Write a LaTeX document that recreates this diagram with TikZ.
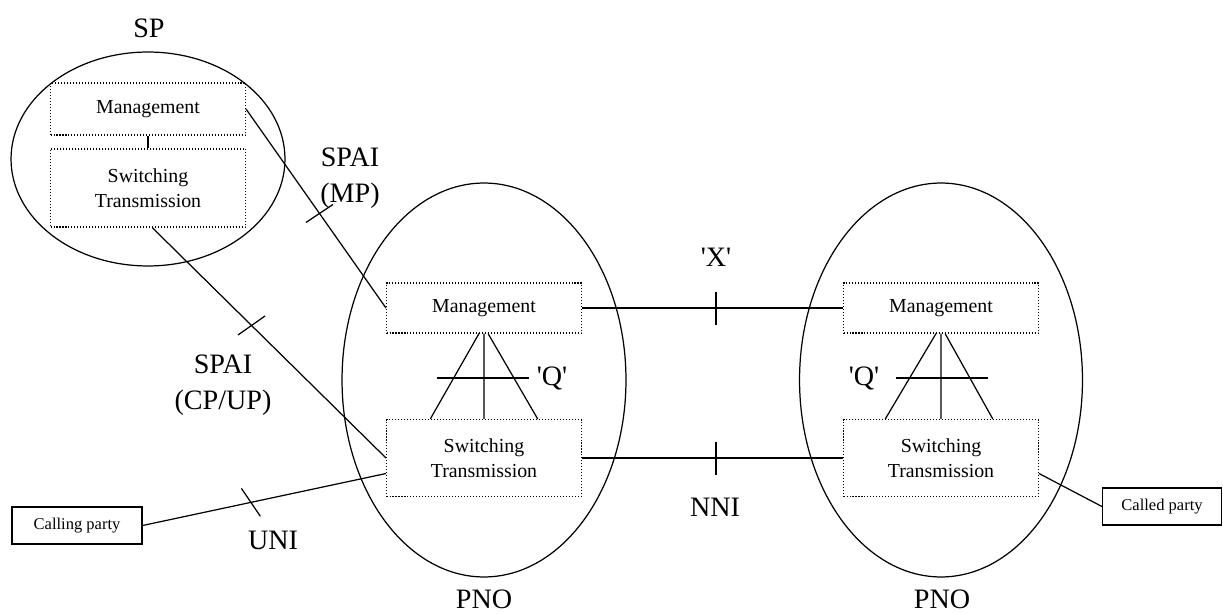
\documentclass[tikz,border=0pt]{standalone}
\usepackage{fontspec}
\setmainfont{Liberation Serif}
\usetikzlibrary{shapes.geometric}

\begin{document}
\begin{tikzpicture}[x=0.02cm,y=-0.02cm,line width=0.7pt,
      netarea/.style={draw,ellipse,inner sep=0pt},
      block/.style={draw,dash pattern=on 0.6pt off 1.1pt,line width=0.6pt,minimum width=3.9cm,
        inner sep=0pt,align=center,font=\fontsize{11.3}{14.2}\selectfont},
      party/.style={draw,inner sep=0pt,minimum height=0.74cm,font=\fontsize{9.4}{11}\selectfont},
      tag/.style={align=center,font=\fontsize{16}{20.4}\selectfont}]
      \useasboundingbox (0,0) rectangle (1223,614);
      % the three domains
      \node[netarea,minimum width=5.48cm,minimum height=4.28cm] (sp) at (148,159) {};
      \node[netarea,minimum width=5.68cm,minimum height=7.88cm] (pnoA) at (484,380) {};
      \node[netarea,minimum width=5.66cm,minimum height=7.88cm] (pnoB) at (941,380) {};
      \node[tag] (SP) at (149,28) {SP};
      \node[tag] (PNOa) at (484,599) {PNO};
      \node[tag] (PNOb) at (942,599) {PNO};
      % functional blocks
      \node[block,minimum height=1.04cm] (spM) at (148,109) {Management};
      \node[block,minimum height=1.56cm] (spS) at (148,188) {Switching\\Transmission};
      \node[block,minimum height=1cm] (pnoAM) at (484,308) {Management};
      \node[block,minimum height=1.54cm] (pnoAS) at (484,458) {Switching\\Transmission};
      \node[block,minimum height=1cm] (pnoBM) at (941,308) {Management};
      \node[block,minimum height=1.54cm] (pnoBS) at (941,458) {Switching\\Transmission};
      \node[party,minimum width=2.6cm] (calling) at (77,525.5) {Calling party};
      \node[party,minimum width=2.38cm] (called) at (1162,506.5) {Called party};
      % interface labels
      \node[tag] (spaiMP) at (350,178) {SPAI\\(MP)};
      \node[tag] (spaiCP) at (223,385) {SPAI\\(CP/UP)};
      \node[tag] (X) at (716,257) {\textquotesingle X\textquotesingle};
      \node[tag] (NNI) at (715,507) {NNI};
      \node[tag] (UNI) at (273,540) {UNI};
      \node[tag] (Qa) at (552,378) {\textquotesingle Q\textquotesingle};
      \node[tag] (Qb) at (864,378) {\textquotesingle Q\textquotesingle};
      % connections
      \draw (spM) -- (spS);
      \draw (spM.east) -- coordinate[pos=.525] (mp) (pnoAM.west);
      \draw (mp) ++(-13.5,9) -- ++(27,-18);
      \draw (spS.-84) -- coordinate[pos=.425] (cp) (pnoAS.west);
      \draw (cp) ++(-13.5,9.5) -- ++(27,-19);
      \draw (calling.east) -- coordinate[pos=.445] (uni) (pnoAS.189);
      \draw (uni) ++(-9.5,-14) -- ++(19,28);
      \draw (pnoBS.-9) -- (called.west);
      \draw (pnoAM.east) -- coordinate[pos=.513] (xi) (pnoBM.west);
      \draw (xi) ++(0,-16) -- ++(0,33);
      \draw (pnoAS.east) -- coordinate[pos=.513] (nni) (pnoBS.west);
      \draw (nni) ++(0,-16) -- ++(0,33);
      % 'Q' reference points
      \draw (pnoAM.-101) -- (pnoAS.144) (pnoAM.south) -- (pnoAS.north) (pnoAM.-81) -- (pnoAS.36);
      \draw (437,378) -- (529,378);
      \draw (pnoBM.-101) -- (pnoBS.145) (pnoBM.south) -- (pnoBS.north) (pnoBM.-81) -- (pnoBS.37);
      \draw (896,378) -- (988,378);
    \end{tikzpicture}
\end{document}
